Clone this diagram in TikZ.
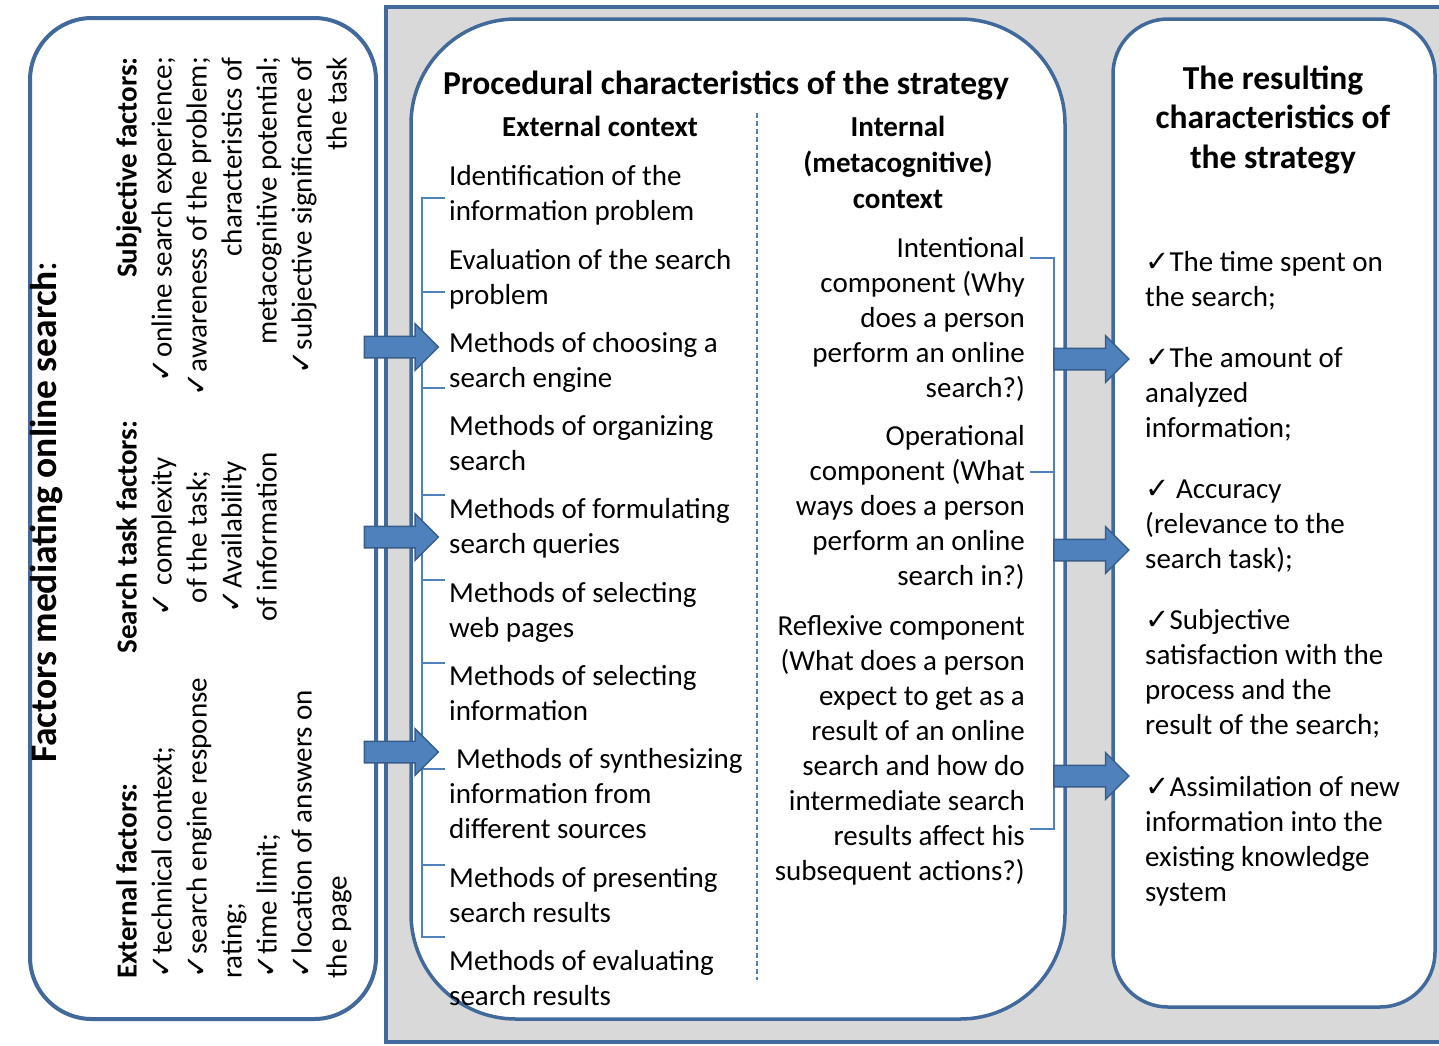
\documentclass[tikz,border=0pt]{standalone}
\usepackage{fontspec}
\setmainfont{Carlito}
\newfontfamily\symfont{DejaVu Sans}
\usetikzlibrary{shapes.arrows}
\definecolor{bord}{HTML}{41699B}
\definecolor{arrfill}{HTML}{4F81BD}
\definecolor{arrdraw}{HTML}{385D8A}
\definecolor{thinblue}{HTML}{4F81BD}
\definecolor{greybg}{HTML}{D9D9D9}
\newcommand\ck{{\symfont\fontsize{29}{35}\selectfont ✓}}
\begin{document}
\begin{tikzpicture}[x=1pt,y=-1pt,
  box/.style={draw=bord, fill=white, line width=3.5pt},
  body/.style={inner sep=0pt, font=\fontsize{29}{35}\selectfont},
  rot/.style={body, rotate=90},
  fatarrow/.style={single arrow, fill=arrfill, draw=arrdraw, line width=1.5pt,
    inner xsep=0pt, inner ysep=10pt, minimum height=74pt, minimum width=0pt,
    single arrow head extend=12.5pt, single arrow head indent=0pt},
  bracket/.style={draw=thinblue, line width=1.2pt},
]
\useasboundingbox (0,0) rectangle (1439,1045);
\clip (0,0) rectangle (1439,1045);
\fill[white] (0,0) rectangle (1439,1045);
% frames
\draw[fill=greybg, draw=bord, line width=4pt] (386,7) rectangle (1470,1042);
\draw[box, line width=4pt, rounded corners=62pt] (30,18) rectangle (376,1019);
\draw[box, rounded corners=105pt] (411,19) rectangle (1065,1019);
\draw[box, rounded corners=55pt] (1113,19) rectangle (1435,1007);

% left panel (rotated)
\node[rotate=90, inner sep=0pt, anchor=base, font=\fontsize{37.5}{40}\selectfont] (lefttitle) at (56,512) {\textbf{Factors mediating online search}:};
\node[rot, anchor=north west, align=left] (extf) at (112,979) {\strut\textbf{External factors:}\\\ck technical context;\\\ck search engine response\\rating;\\\ck time limit;\\\ck location of answers on\\the page};
\node[rot, anchor=north, align=center] (taskf) at (112,537) {\strut\textbf{Search task factors:}\\\ck{} complexity\\of the task;\\\ck Availability\\of information};
\node[rot, anchor=north east, align=right] (subjf) at (112,57) {\strut\textbf{Subjective factors:}\\\ck online search experience;\\\ck awareness of the problem;\\characteristics of\\metacognitive potential;\\\ck subjective significance of\\the task};

% middle panel
\node[inner sep=0pt, anchor=north, font=\fontsize{33.5}{40}\selectfont\bfseries] (midtitle) at (726,66) {\strut Procedural characteristics of the strategy};
\node[body, anchor=north, font=\fontsize{29}{35}\selectfont\bfseries] (exthead) at (600,112) {\strut External context};
\node[body, anchor=north, align=center, font=\fontsize{29}{36}\selectfont\bfseries] (inthead) at (898,111.5) {\strut Internal\\(metacognitive)\\context};

\node[body, anchor=north west, align=left] (e1) at (449,160.5) {\strut Identification of the\\information problem};
\node[body, anchor=north west, align=left] (e2) at (449,244.5) {\strut Evaluation of the search\\problem};
\node[body, anchor=north west, align=left] (e3) at (449,327.5) {\strut Methods of choosing a\\search engine};
\node[body, anchor=north west, align=left] (e4) at (449,410.5) {\strut Methods of organizing\\search};
\node[body, anchor=north west, align=left] (e5) at (449,493.5) {\strut Methods of formulating\\search queries};
\node[body, anchor=north west, align=left] (e6) at (449,577.5) {\strut Methods of selecting\\web pages};
\node[body, anchor=north west, align=left] (e7) at (449,660.5) {\strut Methods of selecting\\information};
\node[body, anchor=north west, align=left] (e8) at (449,743.5) {\strut\hspace{7pt}Methods of synthesizing\\information from\\different sources};
\node[body, anchor=north west, align=left] (e9) at (449,862.5) {\strut Methods of presenting\\search results};
\node[body, anchor=north west, align=left] (e10) at (449,945.5) {\strut Methods of evaluating\\search results};

\node[body, anchor=north east, align=right] (i1) at (1025,232.5) {\strut Intentional\\component (Why\\does a person\\perform an online\\search?)};
\node[body, anchor=north east, align=right] (i2) at (1025,420.5) {\strut Operational\\component (What\\ways does a person\\perform an online\\search in?)};
\node[body, anchor=north east, align=right] (i3) at (1025,610.5) {\strut Reflexive component\\(What does a person\\expect to get as a\\result of an online\\search and how do\\intermediate search\\results affect his\\subsequent actions?)};

% brackets and divider
\draw[bracket] (445,198) -- (422,198) -- (422,937) -- (445,937);
\foreach \yy in {292,388,495,580,663,769,865} \draw[bracket] (422,\yy) -- (445,\yy);
\draw[bracket] (1030,258) -- (1054,258) -- (1054,829) -- (1030,829);
\draw[bracket] (1030,472) -- (1054,472);
\draw[thinblue, line width=1.2pt, dash pattern=on 5pt off 3pt] (757,113) -- (757,980);

% right panel
\node[inner sep=0pt, anchor=north, align=center, font=\fontsize{33.5}{39.5}\selectfont\bfseries] (rtitle) at (1273,61.3) {\strut The resulting\\characteristics of\\the strategy};
\node[body, anchor=north west, align=left] (r1) at (1145,247) {\strut\ck The time spent on\\the search;};
\node[body, anchor=north west, align=left] (r2) at (1145,343) {\strut\ck The amount of\\analyzed\\information;};
\node[body, anchor=north west, align=left] (r3) at (1145,474) {\strut\ck{} Accuracy\\(relevance to the\\search task);};
\node[body, anchor=north west, align=left] (r4) at (1145,605) {\strut\ck Subjective\\satisfaction with the\\process and the\\result of the search;};
\node[body, anchor=north west, align=left] (r5) at (1145,772) {\strut\ck Assimilation of new\\information into the\\existing knowledge\\system};

% block arrows
\node[fatarrow] (la1) at (396,347) {};
\node[fatarrow] (la2) at (396,537) {};
\node[fatarrow] (la3) at (396,752) {};
\node[fatarrow, minimum height=75pt] (ra1) at (1086,359) {};
\node[fatarrow, minimum height=75pt] (ra2) at (1086,550) {};
\node[fatarrow, minimum height=75pt] (ra3) at (1086,776) {};
\end{tikzpicture}
\end{document}
